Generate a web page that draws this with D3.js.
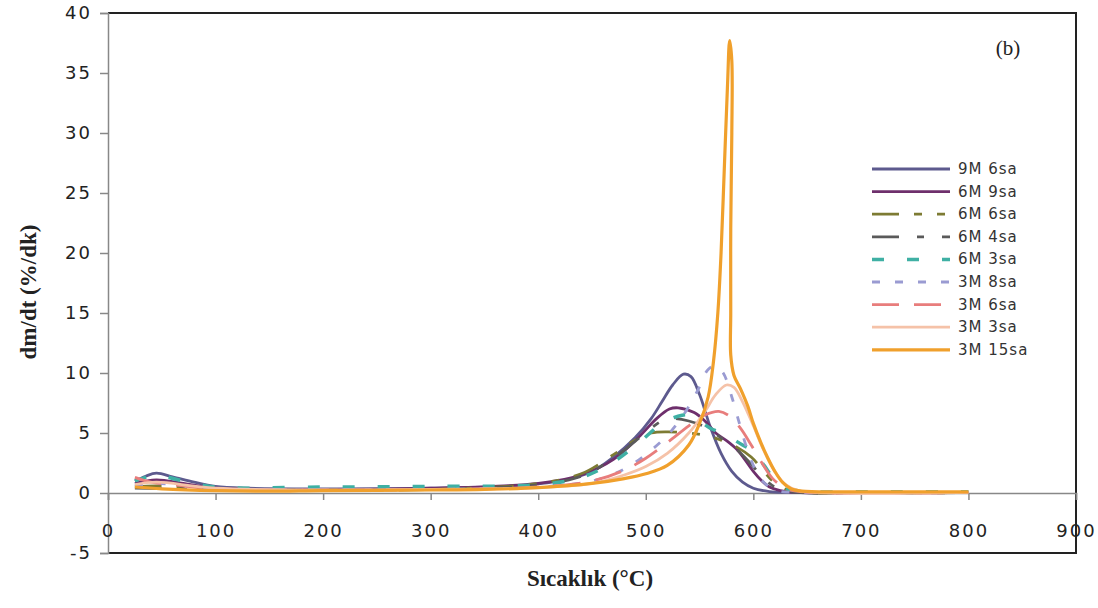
<!DOCTYPE html>
<html>
<head>
<meta charset="utf-8">
<script src="https://cdn.jsdelivr.net/npm/d3@7"></script>
<style>
  body { margin: 0; background: #fff; }
  svg { display: block; }
</style>
</head>
<body>
<script>
// Data: [temperature °C, dm/dt %/dk]
const s9M6 = [[25,1.0],[35,1.4],[45,1.65],[60,1.35],[80,0.9],[100,0.55],[130,0.4],[200,0.35],[300,0.4],[380,0.6],[420,1.0],[450,1.8],[470,3.0],[490,4.6],[505,6.2],[515,7.6],[525,9.0],[535,9.9],[542,9.7],[550,8.2],[560,5.5],[570,3.3],[580,1.8],[590,0.9],[600,0.4],[615,0.12],[630,0.05],[700,0.05],[800,0.05]];
const s6M9 = [[25,0.8],[45,1.1],[70,0.8],[100,0.4],[200,0.3],[300,0.4],[400,0.8],[440,1.5],[470,2.8],[495,4.8],[510,6.2],[522,7.0],[530,7.1],[545,6.7],[555,6.0],[565,5.0],[576,4.3],[585,3.6],[592,2.8],[600,1.8],[608,1.0],[615,0.5],[625,0.2],[640,0.05],[800,0.05]];
const s6M6 = [[25,0.5],[45,0.6],[100,0.3],[200,0.25],[300,0.3],[400,0.8],[440,1.6],[470,3.2],[490,4.4],[505,5.0],[520,5.1],[540,5.0],[555,4.8],[570,4.4],[585,3.8],[598,3.0],[608,2.0],[618,1.0],[628,0.4],[640,0.1],[800,0.05]];
const s6M4 = [[25,0.4],[100,0.3],[300,0.3],[400,0.7],[440,1.4],[470,2.9],[490,4.3],[505,5.4],[515,6.0],[525,6.2],[540,6.0],[555,5.5],[570,4.6],[585,3.6],[598,2.4],[610,1.2],[622,0.4],[635,0.1],[800,0.05]];
const s6M3 = [[25,1.0],[45,1.5],[65,1.1],[100,0.5],[200,0.5],[300,0.55],[400,0.7],[440,1.3],[470,2.6],[495,4.3],[515,5.8],[530,6.4],[540,6.5],[550,6.0],[560,5.4],[575,4.8],[590,4.0],[600,3.5],[610,2.3],[620,1.1],[630,0.4],[645,0.15],[700,0.1],[800,0.1]];
const s3M8 = [[25,0.6],[45,0.8],[100,0.35],[300,0.3],[400,0.5],[450,1.0],[480,2.0],[500,3.2],[520,4.8],[535,6.5],[548,8.5],[558,10.3],[565,10.6],[572,10.0],[580,8.0],[588,5.5],[596,3.2],[604,1.6],[612,0.7],[622,0.2],[640,0.05],[800,0.05]];
const s3M6 = [[25,1.3],[40,0.9],[70,0.6],[100,0.35],[300,0.3],[400,0.5],[450,1.0],[480,1.9],[500,2.9],[520,4.2],[540,5.6],[555,6.5],[568,6.8],[578,6.4],[588,5.4],[598,4.0],[608,2.5],[618,1.2],[628,0.5],[640,0.15],[800,0.05]];
const s3M3 = [[25,0.7],[45,0.9],[100,0.4],[300,0.3],[400,0.45],[450,0.8],[480,1.5],[500,2.2],[520,3.3],[540,5.0],[555,6.8],[565,8.2],[575,9.0],[582,8.8],[590,7.6],[600,5.6],[610,3.5],[620,1.8],[630,0.7],[642,0.2],[800,0.05]];
const s3M15 = [[25,0.5],[50,0.35],[100,0.2],[150,0.15],[200,0.2],[300,0.25],[350,0.3],[400,0.45],[450,0.8],[480,1.2],[500,1.6],[520,2.3],[540,4.0],[550,5.8],[558,8.0],[563,11],[567,15],[570,20],[573,27],[576,34],[578,37.7],[580,36],[580,30],[579,22],[579,15],[579,11.5],[582,9.8],[588,8.7],[595,7.2],[600,5.8],[607,4.2],[613,3.0],[620,1.8],[627,0.9],[635,0.35],[645,0.15],[700,0.1],[800,0.1]];

const seriesNames = ["9M 6sa", "6M 9sa", "6M 6sa", "6M 4sa", "6M 3sa", "3M 8sa", "3M 6sa", "3M 3sa", "3M 15sa"];
const seriesData = [s9M6, s6M9, s6M6, s6M4, s6M3, s3M8, s3M6, s3M3, s3M15];
const xTicks = [0, 100, 200, 300, 400, 500, 600, 700, 800, 900];
const yTicks = [-5, 0, 5, 10, 15, 20, 25, 30, 35, 40];

// styles per series
const colors = ["#5d5a8e", "#6e2f6c", "#7d7b33", "#5a5a5a", "#3fb0a4", "#9a9bd2", "#e87d7c", "#f5c2a8", "#f0a02c"];
const dashes = [null, null, "27,15,8,15,8,15", "27,18,7,18", "12,23", "8,15", "27,15", null, null];
const widths = [2.8, 2.8, 2.8, 2.8, 3.5, 2.8, 2.8, 2.8, 3.2];

const canvasWidth = 1098;
const canvasHeight = 608;

const svg = d3.select("body")
    .append("svg")
    .attr("width", canvasWidth)
    .attr("height", canvasHeight);

const plot = { left: 108, right: 1076, top: 13, bottom: 553 };

const xScale = d3.scaleLinear().domain([0, 900]).range([plot.left, plot.right]);
const yScale = d3.scaleLinear().domain([-5, 40]).range([plot.bottom, plot.top]);

// frame (top, right, bottom)
svg.append("path")
    .attr("d", `M${plot.left},${plot.top}H${plot.right}V${plot.bottom}H${plot.left}`)
    .attr("fill", "none")
    .attr("stroke", "#222")
    .attr("stroke-width", 2);

// y axis
const yAxis = svg.append("g")
    .attr("transform", `translate(${plot.left},0)`)
    .call(d3.axisLeft(yScale).tickValues(yTicks).tickFormat(d => String(d)).tickSize(8).tickPadding(8));
yAxis.select(".domain").attr("stroke", "#888").attr("stroke-width", 1.5);
yAxis.selectAll(".tick line").attr("stroke", "#888").attr("stroke-width", 1.5);
yAxis.selectAll(".tick text")
    .attr("font-family", "DejaVu Sans, Verdana, sans-serif")
    .attr("font-size", 18)
    .attr("letter-spacing", 2)
    .attr("fill", "#222");

// x axis at y = 0
const xAxis = svg.append("g")
    .attr("transform", `translate(0,${yScale(0)})`)
    .call(d3.axisBottom(xScale).tickValues(xTicks).tickFormat(d => String(d)).tickSize(7).tickPadding(24));
xAxis.select(".domain").attr("stroke", "#888").attr("stroke-width", 1.5);
xAxis.selectAll(".tick line").attr("stroke", "#888").attr("stroke-width", 1.5);
xAxis.selectAll(".tick text")
    .attr("font-family", "DejaVu Sans, Verdana, sans-serif")
    .attr("font-size", 18)
    .attr("letter-spacing", 2)
    .attr("fill", "#222");

// curves
const lineFn = d3.line()
    .x(d => xScale(d[0]))
    .y(d => yScale(d[1]))
    .curve(d3.curveCatmullRom.alpha(0.5));

const curves = svg.append("g");
seriesData.forEach((data, i) => {
    curves.append("path")
        .attr("d", lineFn(data))
        .attr("fill", "none")
        .attr("stroke", colors[i])
        .attr("stroke-width", widths[i])
        .attr("stroke-dasharray", dashes[i])
        .attr("stroke-linejoin", "round");
});

// legend
const legend = svg.append("g").attr("transform", "translate(872,169)");
seriesNames.forEach((name, i) => {
    const row = legend.append("g").attr("transform", `translate(0,${i * 22.6})`);
    row.append("line")
        .attr("x1", 0).attr("x2", 78)
        .attr("stroke", colors[i])
        .attr("stroke-width", widths[i])
        .attr("stroke-dasharray", dashes[i]);
    row.append("text")
        .attr("x", 86)
        .attr("y", 5)
        .attr("font-family", "DejaVu Sans, Verdana, sans-serif")
        .attr("font-size", 15)
        .attr("letter-spacing", 1)
        .attr("fill", "#333")
        .text(name);
});

// panel label
svg.append("text")
    .attr("x", 1008).attr("y", 55)
    .attr("text-anchor", "middle")
    .attr("font-family", "Liberation Serif, Times New Roman, serif")
    .attr("font-size", 21)
    .attr("fill", "#222")
    .text("(b)");

// axis titles
svg.append("text")
    .attr("transform", "translate(36,292) rotate(-90)")
    .attr("text-anchor", "middle")
    .attr("font-family", "Liberation Serif, Times New Roman, serif")
    .attr("font-weight", "bold")
    .attr("font-size", 23)
    .attr("fill", "#222")
    .text("dm/dt (%/dk)");

svg.append("text")
    .attr("x", 590).attr("y", 586)
    .attr("text-anchor", "middle")
    .attr("font-family", "Liberation Serif, Times New Roman, serif")
    .attr("font-weight", "bold")
    .attr("font-size", 23)
    .attr("fill", "#222")
    .text("Sıcaklık (°C)");
</script>
</body>
</html>
